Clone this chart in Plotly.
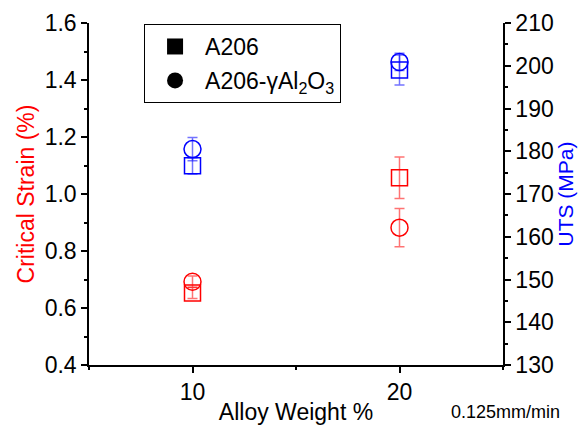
import plotly.graph_objects as go

# Alloy weight fraction (%)
alloy_wt = [10, 20]

# Critical strain (%) with error
strain_a206 = [0.653, 1.057]
strain_a206_err = [0.02, 0.073]
strain_al2o3 = [0.692, 0.882]
strain_al2o3_err = [0.02, 0.067]

# Ultimate tensile strength (MPa) with error
uts_a206 = [176.6, 199.0]
uts_a206_err = [1.9, 3.5]
uts_al2o3 = [180.5, 200.9]
uts_al2o3_err = [2.7, 2.0]

RED = "#ff0000"
BLUE = "#0000ff"
FONT = "Liberation Sans, Arial, sans-serif"

fig = go.Figure()

def add_series(y, err, symbol, size, color, bar_color, yaxis):
    fig.add_trace(go.Scatter(
        x=alloy_wt, y=y, mode="markers", yaxis=yaxis, showlegend=False,
        marker=dict(symbol=symbol, size=size, color=color,
                    line=dict(color=color, width=1.5)),
        error_y=dict(type="data", array=err, visible=True,
                     color=bar_color, thickness=1.5, width=5),
    ))

add_series(strain_a206, strain_a206_err, "square-open", 16, RED, "rgba(255,0,0,0.55)", "y")
add_series(strain_al2o3, strain_al2o3_err, "circle-open", 17, RED, "rgba(255,0,0,0.55)", "y")
add_series(uts_a206, uts_a206_err, "square-open", 16, BLUE, "rgba(0,0,255,0.55)", "y2")
add_series(uts_al2o3, uts_al2o3_err, "circle-open", 17, BLUE, "rgba(0,0,255,0.55)", "y2")

# Legend entries (solid black symbols)
fig.add_trace(go.Scatter(x=[None], y=[None], mode="markers", name="A206",
                         legendgroup="a", marker=dict(symbol="square", size=16, color="black")))
fig.add_trace(go.Scatter(x=[None], y=[None], mode="markers",
                         name="A206-γAl<sub>2</sub>O<sub>3</sub>",
                         legendgroup="b", marker=dict(symbol="circle", size=16, color="black")))

axis_common = dict(
    showline=True, linecolor="black", linewidth=1.5,
    ticks="outside", ticklen=6, tickwidth=1.5, tickcolor="black",
    showgrid=False, zeroline=False, automargin=False,
    tickfont=dict(family=FONT, size=23, color="black"),
)
minor_common = dict(ticks="outside", ticklen=3, tickcolor="black", tickwidth=1.5)

fig.update_layout(
    width=583, height=425,
    margin=dict(l=89, r=80, t=23, b=60),
    paper_bgcolor="white", plot_bgcolor="white",
    font=dict(family=FONT, color="black"),
    xaxis=dict(range=[5, 25], tickvals=[10, 20],
               minor=dict(dtick=5, **minor_common),
               title=dict(text="Alloy Weight %", font=dict(size=23), standoff=2),
               **axis_common),
    yaxis=dict(range=[0.4, 1.6], dtick=0.2, tickformat=".1f",
               minor=dict(dtick=0.1, **minor_common),
               title=dict(text="Critical Strain (%)", font=dict(size=23, color=RED), standoff=4),
               **axis_common),
    yaxis2=dict(range=[130, 210], dtick=10, overlaying="y", side="right",
                minor=dict(dtick=5, **minor_common),
                title=dict(text="UTS (MPa)", font=dict(size=21, color=BLUE), standoff=4),
                **axis_common),
    legend=dict(x=0.133, y=0.997, xanchor="left", yanchor="top",
                bordercolor="black", borderwidth=1, bgcolor="white",
                font=dict(size=23, family=FONT), traceorder="grouped",
                tracegroupgap=1, itemwidth=50),
    annotations=[dict(text="0.125mm/min", xref="paper", yref="paper",
                      x=1.005, y=-0.137, xanchor="center", yanchor="middle",
                      showarrow=False, font=dict(size=18, family=FONT))],
)

fig.write_html("out.html")
